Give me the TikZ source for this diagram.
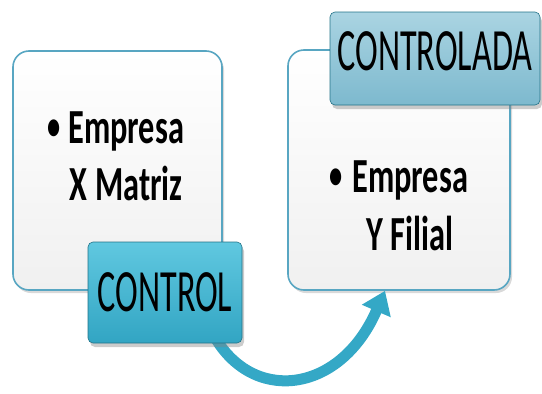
\documentclass[tikz,border=0pt]{standalone}
\usepackage{fontspec}
\setmainfont{Carlito}
\newfontfamily\tagfont[FakeStretch=0.57]{Carlito}
\newfontfamily\itemfont[FakeStretch=0.66]{Carlito}
\usetikzlibrary{shadows,arrows.meta}
\definecolor{boxline}{RGB}{88,166,194}
\definecolor{boxfill}{RGB}{240,240,240}
\definecolor{ctrltop}{RGB}{96,200,224}
\definecolor{ctrlfill}{RGB}{50,165,195}
\definecolor{ladatop}{RGB}{170,212,226}
\definecolor{ladafill}{RGB}{125,185,206}
\definecolor{arrowfill}{RGB}{52,168,198}
\newcommand\itembullet{\raisebox{3.5pt}{\fontsize{40}{40}\selectfont\textbullet}}
\tikzset{
  empresa/.style={draw=boxline, line width=1.6pt, rounded corners=16pt,
    top color=white, bottom color=boxfill,
    drop shadow={opacity=0.3, shadow xshift=2pt, shadow yshift=-3pt}},
  itemtext/.style={font=\itemfont\bfseries\fontsize{49}{57}\selectfont, inner sep=0pt},
  tagbox/.style={rounded corners=5pt, draw=ctrlfill!70!black, line width=0.6pt,
    font=\tagfont\fontsize{60}{64}\selectfont, inner sep=0pt,
    drop shadow={opacity=0.4, shadow xshift=2pt, shadow yshift=-4pt}},
}
\begin{document}
\begin{tikzpicture}[x=1pt,y=-1pt]
  \useasboundingbox (0,0) rectangle (542,394);
  \node[empresa, minimum width=209pt, minimum height=239pt] (matriz) at (117.5,170.5) {};
  \node[empresa, minimum width=222pt, minimum height=240pt] (filial) at (399,170) {};
  \node[itemtext, anchor=base west] (matriztxt) at (47,143)
    {\begin{tabular}[t]{@{}l@{\hspace{8pt}}c@{}}\itembullet & Empresa\\[0pt] & X Matriz\end{tabular}};
  \node[itemtext, anchor=base west] (filialtxt) at (329,192)
    {\begin{tabular}[t]{@{}l@{\hspace{10pt}}c@{}}\itembullet & Empresa\\[1pt] & Y Filial\end{tabular}};
  % curved arrow, its start hidden under the CONTROL box
  \coordinate (arrowstart) at (212,332);
  \draw[arrowfill, line width=11pt, -{Triangle[width=30pt,length=22pt]}]
    (arrowstart) .. controls (250,405) and (340,395) .. ([xshift=-14pt]filial.south);
  \node[tagbox, top color=ctrltop, bottom color=ctrlfill, minimum width=154pt,
    minimum height=101pt] (control) at (165,292.5) {CONTROL};
  \node[tagbox, top color=ladatop, bottom color=ladafill, minimum width=210pt,
    minimum height=93pt, text depth=14pt] (controlada) at (435,58.5) {CONTROLADA};
\end{tikzpicture}
\end{document}
